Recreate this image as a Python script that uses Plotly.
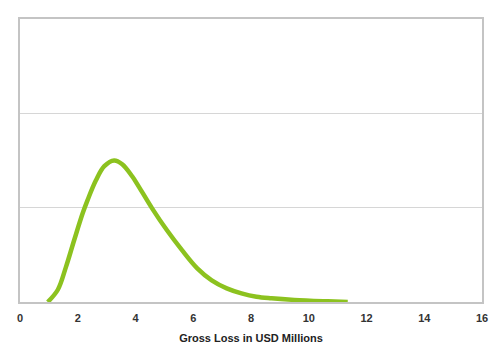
import plotly.graph_objects as go

loss_musd = [0.96, 1.31, 1.59, 1.88, 2.17, 2.34, 2.63, 2.92, 3.26, 3.54, 3.89, 4.06, 4.58, 5.09, 5.61, 6.13, 6.64, 7.16, 7.67, 8.19, 8.71, 9.5, 10.66, 11.35]
density = [0.0, 0.13, 0.37, 0.66, 0.94, 1.08, 1.29, 1.44, 1.5, 1.46, 1.33, 1.25, 0.99, 0.76, 0.55, 0.36, 0.23, 0.145, 0.092, 0.056, 0.039, 0.022, 0.007, 0.0]
x_ticks = [0, 2, 4, 6, 8, 10, 12, 14, 16]

fig = go.Figure()
fig.add_trace(go.Scatter(
    x=loss_musd, y=density, mode="lines",
    line=dict(color="#8cc21f", width=4.5, shape="spline", smoothing=1.0, simplify=False),
    hoverinfo="skip", showlegend=False,
))

fig.update_layout(
    width=500, height=356,
    margin=dict(l=9, r=26, t=11, b=62),
    paper_bgcolor="white", plot_bgcolor="white",
    font=dict(family="Liberation Sans, Arial, sans-serif", color="#333333"),
    xaxis=dict(
        range=[0, 16], tickvals=x_ticks, ticktext=[str(t) for t in x_ticks],
        showgrid=False, zeroline=False,
        showline=True, linecolor="#c4c4c4", linewidth=2, mirror=True,
        ticks="outside", ticklen=5, tickcolor="rgba(0,0,0,0)",
        tickfont=dict(size=11, weight="bold", color="#333333"),
        title=dict(text="Gross Loss in USD Millions", standoff=11,
                   font=dict(size=11, weight="bold", color="#222222")),
    ),
    yaxis=dict(
        range=[0, 3], tickvals=[0, 1, 2, 3], showticklabels=False,
        showgrid=True, gridcolor="#d6d6d6", gridwidth=1, zeroline=False,
        showline=True, linecolor="#c4c4c4", linewidth=2, mirror=True, ticks="",
    ),
)

fig.write_html("out.html")
